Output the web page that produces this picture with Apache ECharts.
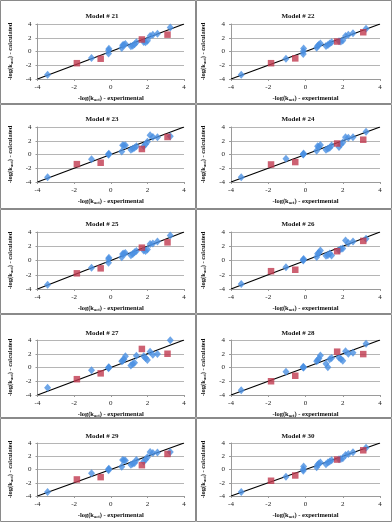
<!DOCTYPE html>
<html><head><meta charset="utf-8">
<script src="https://cdn.jsdelivr.net/npm/echarts@6/dist/echarts.min.js"></script>
<style>html,body{margin:0;padding:0;background:#fff}#c{width:392px;height:523px}</style>
</head><body><div id="c"></div><script>
// ---- data ----
const modelNames = ['Model # 21','Model # 22','Model # 23','Model # 24','Model # 25','Model # 26','Model # 27','Model # 28','Model # 29','Model # 30'];
const tickValues = [-4, -2, 0, 2, 4];
const idealLineX = [-4, 4];
const idealLineY = [-4, 4];
const trainX = [-3.45, -1.05, -0.12, -0.12, -0.1, 0.6, 0.65, 0.72, 0.8, 1.1, 1.2, 1.3, 1.4, 1.8, 1.9, 2.0, 2.15, 2.3, 2.55, 3.25];
const testX = [-1.85, -0.55, 1.7, 3.1];
const train21 = [-3.37, -0.96, -0.3, 0.2, 0.4, 0.5, 0.9, 1.0, 1.1, 0.75, 0.85, 1.05, 1.35, 1.4, 1.35, 1.55, 2.25, 2.45, 2.6, 3.5];
const train22 = [-3.37, -1.05, -0.35, 0.05, 0.45, 0.55, 0.8, 1.0, 1.15, 0.8, 0.95, 1.15, 1.35, 1.5, 1.45, 1.6, 2.25, 2.45, 2.65, 3.3];
const train23 = [-3.3, -0.7, 0.05, -0.05, 0.1, 0.45, 1.35, 1.3, 1.35, 0.7, 0.85, 1.0, 1.2, 1.2, 1.5, 1.85, 2.8, 2.55, 2.5, 2.65];
const train24 = [-3.3, -0.6, 0.0, 0.05, 0.15, 0.55, 1.2, 1.1, 1.4, 0.7, 0.85, 1.0, 1.3, 1.1, 1.5, 1.75, 2.5, 2.45, 2.5, 3.3];
const train25 = [-3.4, -1.0, -0.3, 0.2, 0.4, 0.45, 0.9, 1.0, 1.05, 0.75, 0.9, 1.15, 1.35, 1.4, 1.35, 1.55, 2.3, 2.4, 2.65, 3.5];
const train26 = [-3.3, -0.95, 0.0, 0.1, 0.2, 0.5, 0.95, 1.1, 1.4, 0.65, 0.75, 1.0, 0.7, 1.45, 1.6, 1.7, 2.8, 2.45, 2.65, 3.05];
const train27 = [-2.95, -0.4, 0.0, -0.1, 0.05, 0.9, 1.0, 1.2, 1.65, 0.3, 0.5, 0.7, 1.7, 1.65, 1.4, 1.1, 2.3, 1.85, 1.95, 3.95];
const train28 = [-3.3, -0.6, 0.0, 0.1, 0.0, 0.9, 1.05, 1.3, 1.75, 0.55, 0.05, 1.2, 1.4, 1.45, 1.25, 1.0, 2.35, 2.0, 2.15, 3.45];
const train29 = [-3.4, -0.55, 0.05, -0.1, 0.1, 0.4, 1.45, 1.4, 1.35, 0.7, 0.85, 1.0, 1.45, 1.2, 1.5, 1.85, 2.65, 2.5, 2.55, 2.65];
const train30 = [-3.4, -1.1, -0.2, 0.05, 0.45, 0.35, 0.7, 0.9, 1.05, 0.8, 1.05, 1.2, 1.4, 1.55, 1.6, 1.7, 2.2, 2.35, 2.6, 3.3];
const test21 = [-1.7, -1.05, 1.75, 2.45];
const test22 = [-1.7, -1.0, 1.45, 2.8];
const test23 = [-1.4, -1.2, 0.8, 2.55];
const test24 = [-1.45, -1.1, 1.6, 2.15];
const test25 = [-1.8, -1.1, 1.8, 2.55];
const test26 = [-1.5, -1.3, 1.3, 2.75];
const test27 = [-1.7, -0.85, 2.7, 2.0];
const test28 = [-2.0, -1.2, 2.3, 1.95];
const test29 = [-1.5, -1.15, 0.65, 2.35];
const test30 = [-1.7, -0.9, 1.5, 2.9];
const trainSets = [train21, train22, train23, train24, train25, train26, train27, train28, train29, train30];
const testSets = [test21, test22, test23, test24, test25, test26, test27, test28, test29, test30];

// ---- layout ----
const colLeft = [37.5, 231];
const colRight = [184, 380];
const titleX = [97, 293];
const rowPanelTop = [0.5, 104.5, 209.5, 314.5, 418.5];
const rowPanelH = [104, 105, 105, 104, 104];
const plotTop = [24, 127, 232, 340, 443];
const plotBottom = [79, 182, 289, 395, 496];
const titleY = [12, 115, 220, 329, 432];

const serif = 'Liberation Serif';
const nameRich = { s: { fontSize: 4.5, fontFamily: serif, fontWeight: 'bold', color: '#111', padding: [3, 0, 0, 0] } };

const chart = echarts.init(document.getElementById('c'), null, { renderer: 'canvas' });
const grids = [], xAxes = [], yAxes = [], series = [], titles = [], graphics = [];
for (let i = 0; i < 10; i++) {
  const r = Math.floor(i / 2), c = i % 2;
  graphics.push({ type: 'rect', shape: { x: c === 0 ? 0.5 : 196.5, y: rowPanelTop[r], width: 195, height: rowPanelH[r] - 1 },
    style: { fill: 'none', stroke: '#8a8a8a', lineWidth: 1 }, silent: true });
  titles.push({ text: modelNames[i], left: titleX[c], top: titleY[r] - 4, textAlign: 'center',
    textStyle: { fontFamily: serif, fontWeight: 'bold', fontSize: 7, color: '#111' } });
  grids.push({ left: colLeft[c], top: plotTop[r], width: colRight[c] - colLeft[c], height: plotBottom[r] - plotTop[r], containLabel: false });
  xAxes.push({ type: 'value', gridIndex: i, min: -4, max: 4, interval: 2,
    axisLine: { onZero: false, lineStyle: { color: '#9a9a9a' } },
    axisTick: { show: true, length: 2, lineStyle: { color: '#9a9a9a' } },
    splitLine: { show: false },
    axisLabel: { fontFamily: serif, fontSize: 7, color: '#222', margin: 5, formatter: v => String(v) },
    name: '-log(k{s|act}) - experimental', nameLocation: 'middle', nameGap: 15.5,
    nameTextStyle: { fontFamily: serif, fontWeight: 'bold', fontSize: 6.5, color: '#111', rich: nameRich } });
  yAxes.push({ type: 'value', gridIndex: i, min: -4, max: 4, interval: 2,
    axisLine: { show: true, onZero: false, lineStyle: { color: '#9a9a9a' } },
    axisTick: { show: true, length: 2, lineStyle: { color: '#9a9a9a' } },
    splitLine: { show: true, lineStyle: { color: '#b5b5b5', width: 1 } },
    axisLabel: { fontFamily: serif, fontSize: 7, color: '#222', margin: 6, formatter: v => String(v) },
    name: '-log(k{s|act}) - calculated', nameLocation: 'middle', nameGap: 23.5,
    nameTextStyle: { fontFamily: serif, fontWeight: 'bold', fontSize: 6.5, color: '#111', rich: nameRich } });
  series.push({ type: 'line', xAxisIndex: i, yAxisIndex: i, data: idealLineX.map((x, k) => [x, idealLineY[k]]),
    symbol: 'none', lineStyle: { color: '#000', width: 1.2 }, silent: true, z: 2 });
  series.push({ type: 'scatter', xAxisIndex: i, yAxisIndex: i, data: trainX.map((x, k) => [x, trainSets[i][k]]),
    symbol: 'diamond', symbolSize: [7, 8], itemStyle: { color: '#4a90e2' }, z: 3 });
  series.push({ type: 'scatter', xAxisIndex: i, yAxisIndex: i, data: testX.map((x, k) => [x, testSets[i][k]]),
    symbol: 'rect', symbolSize: 6.5, itemStyle: { color: '#c0394f' }, z: 4 });
}
chart.setOption({ animation: false, backgroundColor: '#fff', title: titles, grid: grids, xAxis: xAxes, yAxis: yAxes, series: series, graphic: graphics });
</script></body></html>
